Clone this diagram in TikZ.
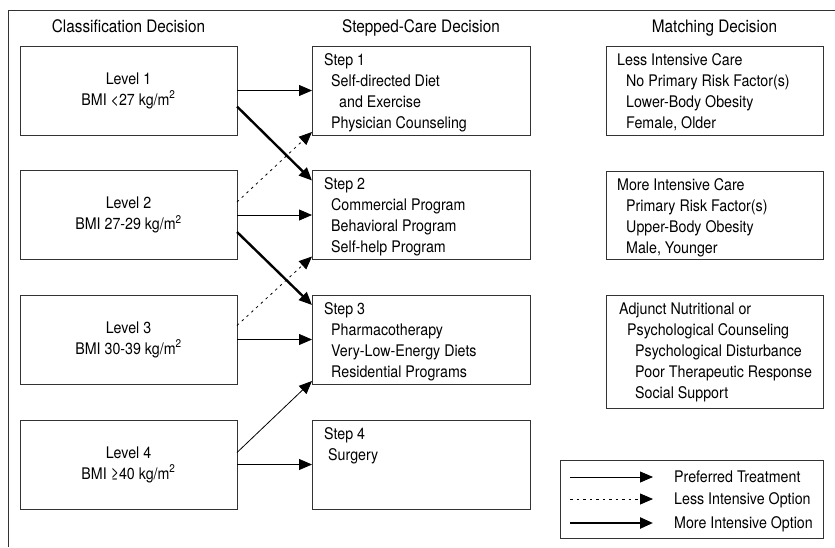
\documentclass[tikz,border=0pt]{standalone}
\usepackage{fontspec}
\setmainfont[FakeStretch=0.89]{TeX Gyre Heros}
\usetikzlibrary{arrows.meta,calc}
\tikzset{
  box/.style={draw=black!80,line width=0.8pt,outer sep=0pt,inner sep=0pt},
  lvl/.style={box,minimum width=217pt,minimum height=89pt,align=center},
  stp/.style={box,minimum width=218pt,minimum height=89pt},
  mtc/.style={box,minimum width=217pt},
  txt/.style={anchor=base west,inner sep=0pt},
  head/.style={anchor=base,inner sep=0pt,font=\fontsize{17.2}{20}\selectfont},
  pref/.style={line width=0.8pt,-{Triangle[length=13pt,width=11pt]}},
  less/.style={line width=0.8pt,dash pattern=on 2.5pt off 4pt,-{Triangle[length=13pt,width=11pt]}},
  more/.style={line width=2.4pt,-{Triangle[length=13pt,width=11pt]}},
}
\newcommand{\lines}[1]{\parbox[t]{205pt}{\fontsize{16}{21}\selectfont\raggedright #1}}
\begin{document}
\begin{tikzpicture}[x=1pt,y=-1pt,font=\fontsize{16}{21}\selectfont]
		\useasboundingbox (0,0) rectangle (835,547);
		\draw[line width=0.8pt,black!80] (835,10) -- (8,10) -- (8,547);
		% column heads
		\node[head] (h1) at (128.5,32) {Classification Decision};
		\node[head] (h2) at (421,32) {Stepped-Care Decision};
		\node[head] (h3) at (714.5,32) {Matching Decision};
		% classification levels
		\node[lvl] (l1) at (128.5,90.5) {Level 1\\BMI <27 kg/m\textsuperscript{2}};
		\node[lvl] (l2) at (128.5,215) {Level 2\\BMI 27-29 kg/m\textsuperscript{2}};
		\node[lvl] (l3) at (128.5,339.5) {Level 3\\BMI 30-39 kg/m\textsuperscript{2}};
		\node[lvl] (l4) at (128.5,464.5) {Level 4\\BMI ≥40 kg/m\textsuperscript{2}};
		% steps
		\node[stp] (s1) at (421,90.5) {};
		\node[stp] (s2) at (421,215) {};
		\node[stp] (s3) at (421,339.5) {};
		\node[stp] (s4) at (421,464.5) {};
		\node[txt] (t1) at ($(s1.north west)+(12,19)$) {\lines{Step 1\\\hspace*{7pt}Self-directed Diet\\\hspace*{15pt}and Exercise\\\hspace*{7pt}Physician Counseling}};
		\node[txt] (t2) at ($(s2.north west)+(12,19)$) {\lines{Step 2\\\hspace*{7pt}Commercial Program\\\hspace*{7pt}Behavioral Program\\\hspace*{7pt}Self-help Program}};
		\node[txt] (t3) at ($(s3.north west)+(12,19)$) {\lines{Step 3\\\hspace*{7pt}Pharmacotherapy\\\hspace*{7pt}Very-Low-Energy Diets\\\hspace*{7pt}Residential Programs}};
		\node[txt] (t4) at ($(s4.north west)+(12,19)$) {\lines{Step 4\\\hspace*{4pt}Surgery}};
		% matching
		\node[mtc,minimum height=89pt] (m1) at (714.5,90.5) {};
		\node[mtc,minimum height=88pt] (m2) at (714.5,215) {};
		\node[mtc,minimum height=113pt] (m3) at (714.5,351.5) {};
		\node[txt] (u1) at ($(m1.north west)+(11,19)$) {\lines{Less Intensive Care\\\hspace*{9pt}No Primary Risk Factor(s)\\\hspace*{9pt}Lower-Body Obesity\\\hspace*{9pt}Female, Older}};
		\node[txt] (u2) at ($(m2.north west)+(11,19)$) {\lines{More Intensive Care\\\hspace*{9pt}Primary Risk Factor(s)\\\hspace*{9pt}Upper-Body Obesity\\\hspace*{9pt}Male, Younger}};
		\node[txt] (u3) at ($(m3.north west)+(13,19)$) {\lines{Adjunct Nutritional or\\\hspace*{8pt}Psychological Counseling\\\hspace*{16pt}Psychological Disturbance\\\hspace*{16pt}Poor Therapeutic Response\\\hspace*{16pt}Social Support}};
		% treatment arrows
		\draw[pref] (l1.east) -- (s1.west);
		\draw[pref] (l2.east) -- (s2.west);
		\draw[pref] (l3.east) -- (s3.west);
		\draw[pref] (l4.east) -- (s4.west);
		\draw[more] ($(l1.east)+(0,16)$) -- ($(s2.north west)+(0,10)$);
		\draw[more] ($(l2.east)+(0,17)$) -- ($(s3.north west)+(0,10)$);
		\draw[less] ($(l2.east)+(0,-13)$) -- ($(s1.south west)+(0,-3)$);
		\draw[less] ($(l3.east)+(0,-14)$) -- ($(s2.south west)+(0,-3)$);
		\draw[pref] ($(l4.east)+(0,-12)$) -- ($(s3.south west)+(0,-3)$);
		% legend
		\node[box,minimum width=263pt,minimum height=78pt] (key) at (691.5,499) {};
		\coordinate (k1) at ($(key.west)+(10,-22)$);
		\coordinate (k2) at ($(key.west)+(10,0)$);
		\coordinate (k3) at ($(key.west)+(10,24)$);
		\draw[pref] (k1) -- ++(83,0);
		\draw[less] (k2) -- ++(83,0);
		\draw[more] (k3) -- ++(83,0);
		\node[txt] (c1) at ($(k1)+(104,5.5)$) {Preferred Treatment};
		\node[txt] (c2) at ($(k2)+(104,5.5)$) {Less Intensive Option};
		\node[txt] (c3) at ($(k3)+(104,5.5)$) {More Intensive Option};
\end{tikzpicture}
\end{document}
